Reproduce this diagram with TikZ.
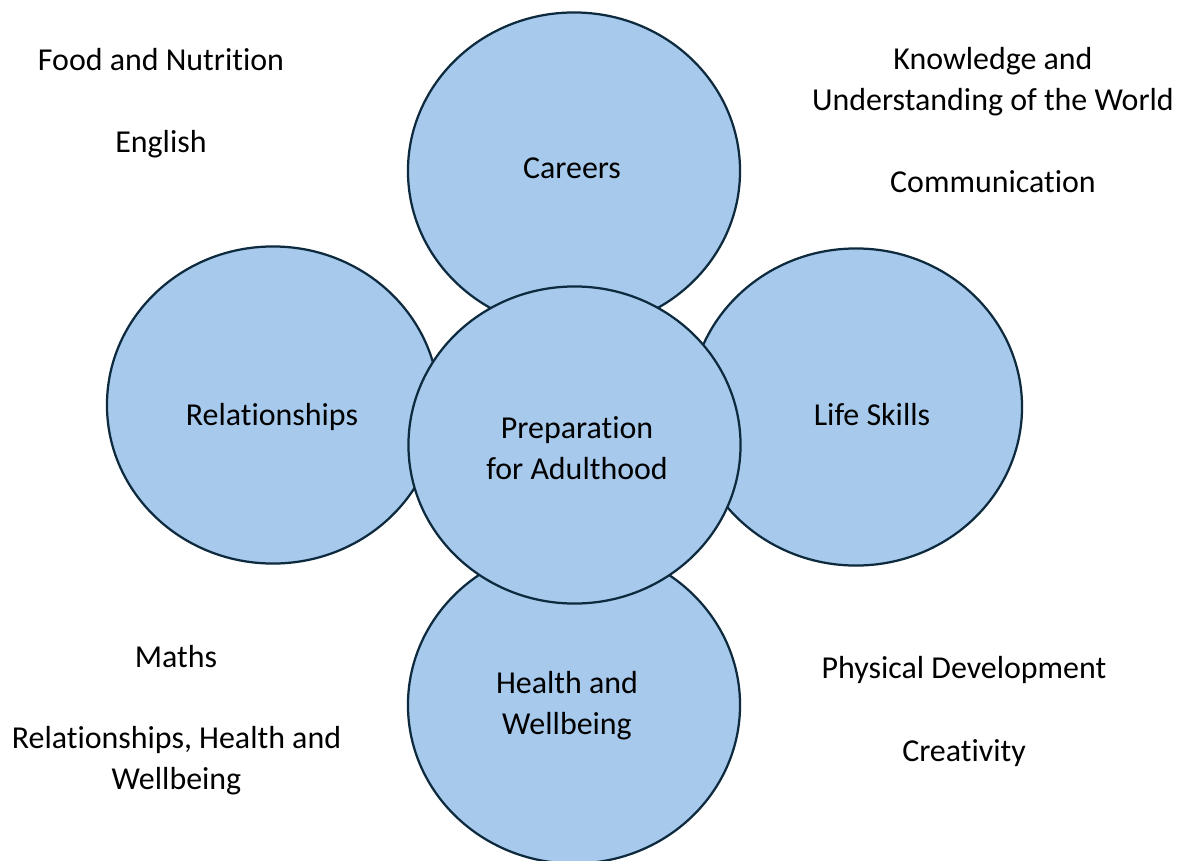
\documentclass[tikz,border=0pt]{standalone}
\usepackage{fontspec}
\setmainfont{Carlito}[Ligatures={NoCommon}]
\usepackage{xcolor}
\usetikzlibrary{shapes.geometric, positioning, calc}

\definecolor{bubblefill}{HTML}{A6C9EC}
\definecolor{bubbleline}{HTML}{0E2A3E}

\begin{document}
\begin{tikzpicture}[x=0.025cm,y=-0.025cm,
  bubble/.style={draw=bubbleline,fill=bubblefill,line width=1.6pt,ellipse,inner sep=0pt,minimum width=8.3cm,minimum height=7.925cm},
  txt/.style={anchor=base,align=center,inner sep=0pt,font=\fontsize{22.7pt}{28.9pt}\selectfont}]
  \useasboundingbox (0,0) rectangle (1185,861);
  \clip (0,0) rectangle (1185,861);
  % outer circles
  \node[bubble] (careers) at (574,171) {};
  \node[bubble] (rel) at (273,405) {};
  \node[bubble] (life) at (856,407) {};
  \node[bubble] (health) at (574,705) {};
  \node[txt] at ([shift={(-2,7)}]careers.center) {Careers};
  \node[txt] at ([shift={(-1,20)}]rel.center) {Relationships};
  \node[txt] at ([shift={(16,18)}]life.center) {Life Skills};
  \node[txt] at ([shift={(-7,29)}]health.center) {Health and\\Wellbeing};
  % centre circle on top
  \node[bubble] (adult) at (574.5,445) {};
  \node[txt] at ([shift={(2.5,34)}]adult.center) {Preparation\\for Adulthood};
  % subjects (base = last line)
  \node[txt] (food) at (161,70) {Food and Nutrition};
  \node[txt] (english) at (161,152) {English};
  \node[txt] (knowledge) at (993,110) {Knowledge and\\Understanding of the World};
  \node[txt] (comm) at (993,192) {Communication};
  \node[txt] (maths) at (176,667) {Maths};
  \node[txt] (rhw) at (176.5,789) {Relationships, Health and\\Wellbeing};
  \node[txt] (phys) at (964,678) {Physical Development};
  \node[txt] (create) at (964,761) {Creativity};
\end{tikzpicture}
\end{document}
